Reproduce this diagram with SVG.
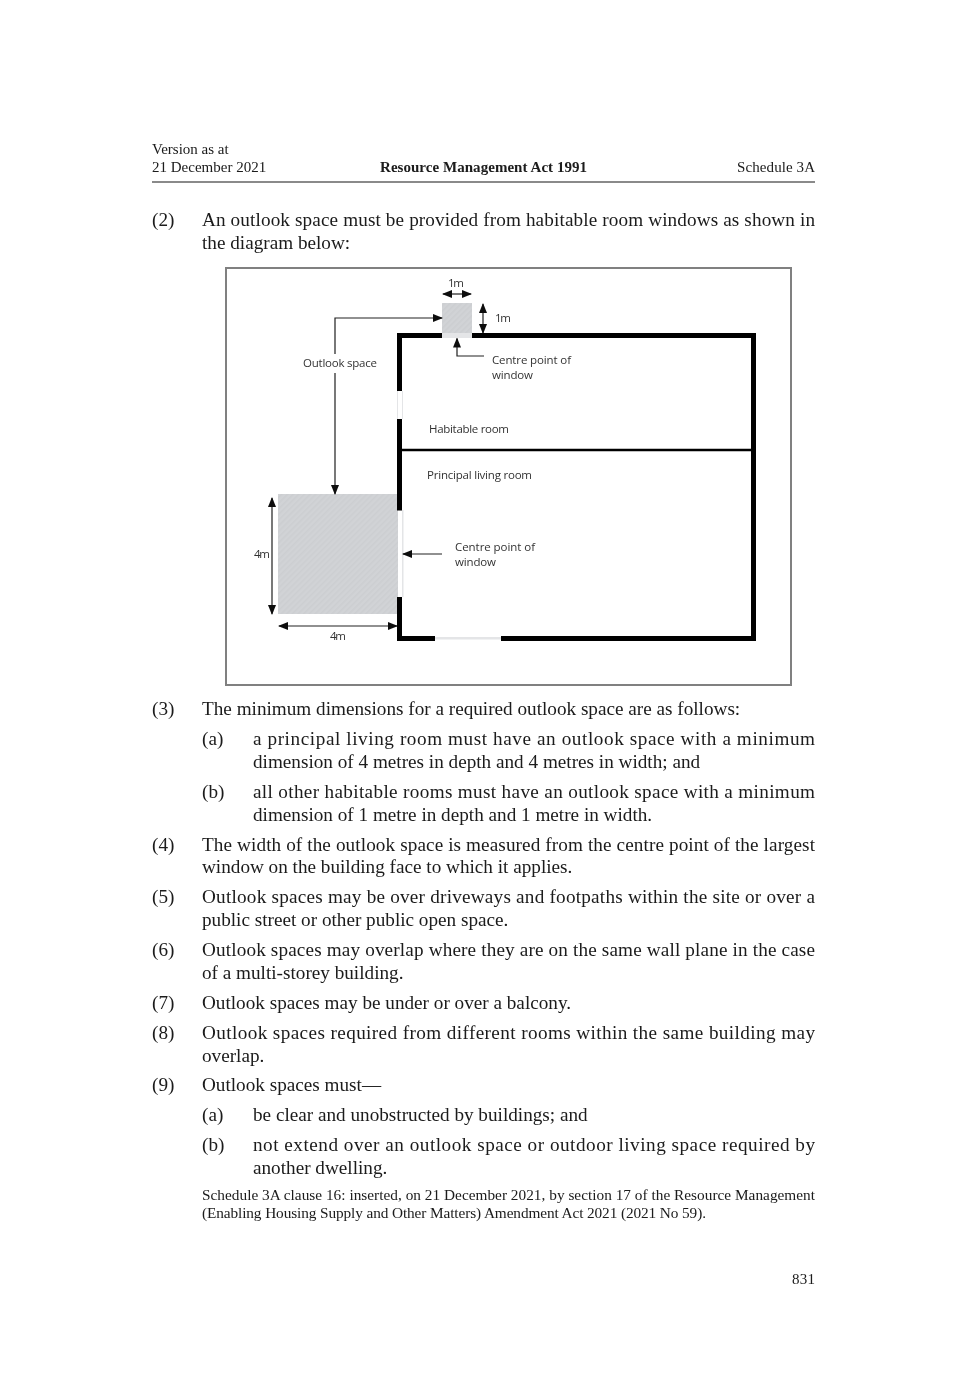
<svg xmlns="http://www.w3.org/2000/svg" width="967" height="1379" viewBox="0 0 967 1379">
<style>
.b{font-family:"Liberation Serif","Times New Roman",serif;font-size:19.2px;fill:#1a1a1a}
.s{font-size:15.3px}
.h{font-family:"Liberation Serif","Times New Roman",serif;font-size:15px;fill:#1a1a1a}
.l{font-family:"Open Sans","Liberation Sans",sans-serif;font-size:11.5px;fill:#333}
.c{stroke:#222;stroke-width:1.2;fill:none}
.w{stroke:#000;fill:none;stroke-width:5}
.o{fill:#e4e5e7}
.f{filter:url(#soft)}
</style>
<defs>
<filter id="soft" x="-2%" y="-2%" width="104%" height="104%"><feGaussianBlur stdDeviation="0.35"/></filter>
<pattern id="hatch" width="4" height="4" patternUnits="userSpaceOnUse" patternTransform="rotate(45)"><rect width="4" height="4" fill="#d1d3d6"/><rect width="1.500" height="4" fill="#cccED1"/></pattern>
<marker id="a" markerWidth="10" markerHeight="8" refX="9" refY="4" orient="auto-start-reverse" markerUnits="userSpaceOnUse"><path d="M0 0L10 4L0 8Z" fill="#111"/></marker>
</defs>
<rect width="967" height="1379" fill="#fff"/>
<g id="page-header" class="f">
<text class="h" x="152" y="154">Version as at</text>
<text class="h" x="152" y="172">21 December 2021</text>
<text class="h" x="380" y="172" font-weight="bold" textLength="207">Resource Management Act 1991</text>
<text class="h" x="737" y="172" textLength="78">Schedule 3A</text>
<rect x="152" y="181" width="663" height="2" fill="#8a8a8a"/>
</g>
<g id="intro" class="f">
<text class="b" x="152" y="226">(2)</text>
<text class="b" x="202" y="226" textLength="613">An outlook space must be provided from habitable room windows as shown in</text>
<text class="b" x="202" y="249">the diagram below:</text>
</g>
<rect id="frame" x="226" y="268" width="565" height="417" fill="#fff" stroke="#808080" stroke-width="2"/>
<g id="outlook-small"><rect fill="url(#hatch)" x="442" y="303" width="30" height="30"/></g>
<g id="outlook-large"><rect fill="url(#hatch)" x="278" y="494" width="120" height="120"/></g>
<g id="building" class="f">
<path class="w" d="M442 335.500H399.500V391M399.500 419V510.500M399.500 597V638.500H435M501 638.500H753.500V335.500H471.500"/>
<path d="M400 450H753" stroke="#000" stroke-width="2.500" fill="none"/>
<rect class="o" x="442" y="333" width="30" height="5"/>
<rect class="o" x="402" y="391" width="1" height="28"/>
<rect class="o" x="397" y="391" width="1" height="28"/>
<rect class="o" x="402" y="510" width="1.500" height="87"/>
<rect class="o" x="435" y="637" width="66" height="2.500"/>
</g>
<g id="connectors" class="f">
<path class="c" marker-end="url(#a)" d="M335 354V318H442"/>
<path class="c" marker-end="url(#a)" d="M335 373V494"/>
<path class="c" marker-end="url(#a)" d="M484 356H457V338.500"/>
<path class="c" marker-start="url(#a)" marker-end="url(#a)" d="M443 294H471"/>
<path class="c" marker-start="url(#a)" marker-end="url(#a)" d="M483 304V333"/>
<path class="c" marker-start="url(#a)" marker-end="url(#a)" d="M272 498V614"/>
<path class="c" marker-start="url(#a)" marker-end="url(#a)" d="M279 626H397"/>
<path class="c" marker-end="url(#a)" d="M442 554H403"/>
</g>
<g id="labels" class="f">
<text class="l" x="448" y="287" textLength="16">1m</text>
<text class="l" x="495" y="322" textLength="16">1m</text>
<text class="l" x="303" y="367" textLength="74">Outlook space</text>
<text class="l" x="492" y="364" textLength="79">Centre point of</text>
<text class="l" x="492" y="379" textLength="41">window</text>
<text class="l" x="429" y="433" textLength="80">Habitable room</text>
<text class="l" x="427" y="479" textLength="105">Principal living room</text>
<text class="l" x="455" y="551" textLength="80">Centre point of</text>
<text class="l" x="455" y="566" textLength="41">window</text>
<text class="l" x="254" y="558" textLength="16">4m</text>
<text class="l" x="330" y="640" textLength="16">4m</text>
</g>
<g id="clauses" class="f">
<text class="b" x="152" y="715">(3)</text>
<text class="b" x="202" y="715">The minimum dimensions for a required outlook space are as follows:</text>
<text class="b" x="202" y="745">(a)</text>
<text class="b" x="253" y="745" textLength="562">a principal living room must have an outlook space with a minimum</text>
<text class="b" x="253" y="768">dimension of 4 metres in depth and 4 metres in width; and</text>
<text class="b" x="202" y="798">(b)</text>
<text class="b" x="253" y="798" textLength="562">all other habitable rooms must have an outlook space with a minimum</text>
<text class="b" x="253" y="821">dimension of 1 metre in depth and 1 metre in width.</text>
<text class="b" x="152" y="851">(4)</text>
<text class="b" x="202" y="851" textLength="613">The width of the outlook space is measured from the centre point of the largest</text>
<text class="b" x="202" y="873">window on the building face to which it applies.</text>
<text class="b" x="152" y="903">(5)</text>
<text class="b" x="202" y="903" textLength="613">Outlook spaces may be over driveways and footpaths within the site or over a</text>
<text class="b" x="202" y="926">public street or other public open space.</text>
<text class="b" x="152" y="956">(6)</text>
<text class="b" x="202" y="956" textLength="613">Outlook spaces may overlap where they are on the same wall plane in the case</text>
<text class="b" x="202" y="979">of a multi-storey building.</text>
<text class="b" x="152" y="1009">(7)</text>
<text class="b" x="202" y="1009">Outlook spaces may be under or over a balcony.</text>
<text class="b" x="152" y="1039">(8)</text>
<text class="b" x="202" y="1039" textLength="613">Outlook spaces required from different rooms within the same building may</text>
<text class="b" x="202" y="1062">overlap.</text>
<text class="b" x="152" y="1091">(9)</text>
<text class="b" x="202" y="1091">Outlook spaces must—</text>
<text class="b" x="202" y="1121">(a)</text>
<text class="b" x="253" y="1121">be clear and unobstructed by buildings; and</text>
<text class="b" x="202" y="1151">(b)</text>
<text class="b" x="253" y="1151" textLength="562">not extend over an outlook space or outdoor living space required by</text>
<text class="b" x="253" y="1174">another dwelling.</text>
<text class="b s" x="202" y="1200" textLength="613">Schedule 3A clause 16: inserted, on 21 December 2021, by section 17 of the Resource Management</text>
<text class="b s" x="202" y="1218" textLength="504">(Enabling Housing Supply and Other Matters) Amendment Act 2021 (2021 No 59).</text>
<text class="h" x="792" y="1284" textLength="23">831</text>
</g>
</svg>
